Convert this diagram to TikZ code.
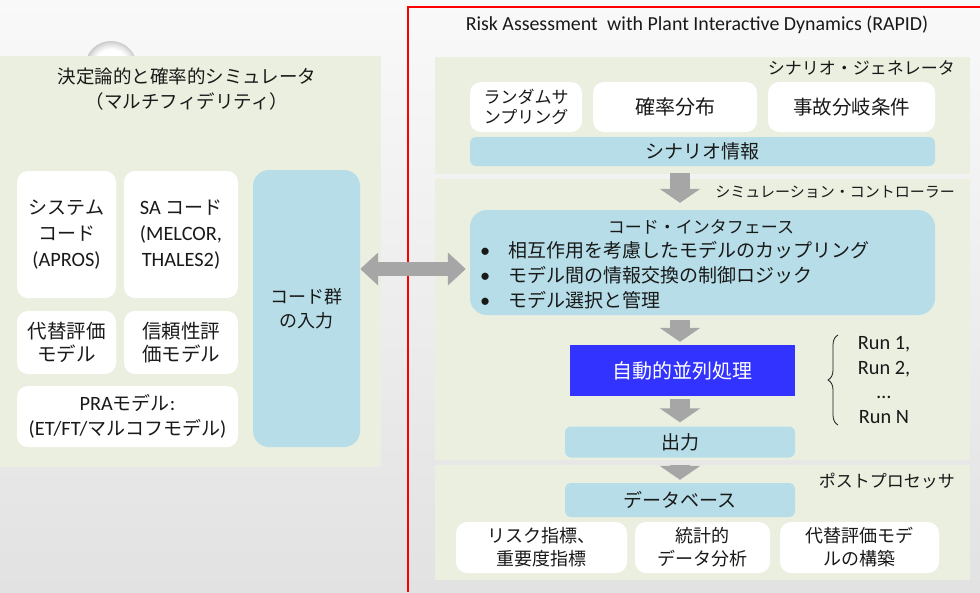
\documentclass[tikz,border=0pt]{standalone}
\usepackage{fontspec}
\setmainfont{Carlito}
\newfontfamily\jp{Noto Sans CJK JP}
\newfontfamily\lat[Scale=1.07]{Carlito}
\usetikzlibrary{arrows.meta,decorations.pathreplacing}
\definecolor{panel}{RGB}{235,239,224}
\definecolor{lblue}{RGB}{183,222,232}
\definecolor{dblue}{RGB}{51,51,255}
\definecolor{arr}{RGB}{166,166,166}
\definecolor{ink}{RGB}{25,25,25}
\pgfdeclareradialshading{ballrim}{\pgfpoint{0bp}{0bp}}{color(0bp)=(white); color(17bp)=(white); color(22bp)=(gray!22); color(25bp)=(gray!42); color(50bp)=(gray!42)}
\begin{document}
\begin{tikzpicture}[x=1pt,y=-1pt,
  txt/.style={inner sep=0pt, align=center, text=ink, font=\jp\fontsize{19}{25}\selectfont},
  wbox/.style={txt, fill=white, rounded corners=11pt},
  bbox/.style={txt, fill=lblue, rounded corners=6pt},
  dnarrow/.style={draw=arr, line width=20pt, -{Triangle[length=14pt,width=40pt]}},
  bigarrow/.style={draw=arr, line width=14pt, {Triangle[length=18pt,width=32pt]}-{Triangle[length=18pt,width=32pt]}}
]
\useasboundingbox (0,0) rectangle (980,592);
\shade[top color={rgb,255:red,249;green,249;blue,249}, bottom color={rgb,255:red,226;green,226;blue,226}] (0,0) rectangle (980,592);
\shade[shading=ballrim] (111,67) circle (26pt);

% left panel
\fill[panel] (0,56) rectangle (381,467);
\node[txt, font=\jp\fontsize{18.5}{24}\selectfont] (lt1) at (187,76) {決定論的と確率的シミュレータ};
\node[txt, font=\jp\fontsize{18.5}{24}\selectfont] (lt2) at (187,101) {（マルチフィデリティ）};

\node[wbox, minimum width=99pt, minimum height=127pt, font=\jp\fontsize{19}{26}\selectfont] (sys) at (66.5,234.5) {システム\\コード\\{\lat (APROS)}};
\node[wbox, minimum width=114pt, minimum height=127pt, font=\jp\fontsize{19}{26}\selectfont] (sa) at (181,234.5) {{\lat SA} コード\\{\lat (MELCOR,}\\{\lat THALES2)}};
\node[wbox, minimum width=99pt, minimum height=63pt, font=\jp\fontsize{19.5}{23}\selectfont] (alt) at (66.5,342.5) {代替評価\\モデル};
\node[wbox, minimum width=114pt, minimum height=63pt, font=\jp\fontsize{19.5}{23}\selectfont] (rel) at (181,342.5) {信頼性評\\価モデル};
\node[wbox, minimum width=221pt, minimum height=61pt, font=\jp\fontsize{19}{25}\selectfont] (pra) at (127.5,416.5) {{\lat PRA}モデル{\lat :}\\{\lat (ET/FT/}マルコフモデル{\lat )}};
\node[bbox, rounded corners=16pt, minimum width=107pt, minimum height=277pt, font=\jp\fontsize{18}{24}\selectfont] (input) at (306.5,308.5) {コード群\\の入力};

% red frame
\draw[red, line width=1.3pt] (980,7) -- (408,7) -- (408,592);
\node[inner sep=0pt, text=ink, font=\lat\fontsize{18.6}{22}\selectfont] (ttl) at (697,25) {Risk Assessment\hspace{0.25em} with Plant Interactive Dynamics (RAPID)};

% scenario generator
\fill[panel] (435,57) rectangle (970,174);
\node[txt, anchor=east, font=\jp\fontsize{17}{20}\selectfont] (sglbl) at (955,68) {シナリオ・ジェネレータ};
\node[wbox, minimum width=112pt, minimum height=50pt, font=\jp\fontsize{17}{20}\selectfont] (samp) at (526,107) {ランダムサ\\ンプリング};
\node[wbox, minimum width=164pt, minimum height=50pt, font=\jp\fontsize{20}{24}\selectfont] (prob) at (675,107) {確率分布};
\node[wbox, minimum width=167pt, minimum height=50pt, font=\jp\fontsize{19.5}{24}\selectfont] (acc) at (851.5,107) {事故分岐条件};
\node[bbox, minimum width=465pt, minimum height=29pt] (scinfo) at (702.5,151.5) {シナリオ情報};

% simulation controller
\fill[panel] (435,179) rectangle (970,460);
\node[txt, anchor=east, font=\jp\fontsize{15}{18}\selectfont] (sclbl) at (955,192) {シミュレーション・コントローラー};
\node[bbox, rounded corners=17pt, minimum width=465pt, minimum height=105pt] (iface) at (702.5,262.5) {};
\node[txt, font=\jp\fontsize{17}{20}\selectfont] (ifttl) at (701,227) {コード・インタフェース};
\node[txt, anchor=west, align=left] (ifitems) at (480,275) {\makebox[28pt][l]{\lat •}相互作用を考慮したモデルのカップリング\\\makebox[28pt][l]{\lat •}モデル間の情報交換の制御ロジック\\\makebox[28pt][l]{\lat •}モデル選択と管理};
\node[txt, fill=dblue, text=white, minimum width=225pt, minimum height=51pt, font=\jp\fontsize{20}{24}\selectfont] (para) at (682.5,370.5) {自動的並列処理};
\node[bbox, minimum width=230pt, minimum height=31pt] (out) at (680,442) {出力};
\coordinate (brb) at (838,425);
\coordinate (brt) at (838,335);
\draw[decorate, decoration={brace, amplitude=10pt}, line width=0.8pt, ink] (brb) -- (brt);
\node[inner sep=0pt, align=center, text=ink, font=\lat\fontsize{19}{24.5}\selectfont] (runs) at (884,380) {Run 1,\\Run 2,\\…\\Run N};

% post processor
\fill[panel] (435,465) rectangle (970,580);
\node[txt, anchor=east, font=\jp\fontsize{17}{20}\selectfont] (pplbl) at (955,481) {ポストプロセッサ};
\node[bbox, minimum width=230pt, minimum height=34pt] (db) at (680,500) {データベース};
\node[wbox, minimum width=171pt, minimum height=51pt, font=\jp\fontsize{18}{23}\selectfont] (risk) at (541.5,547.5) {リスク指標、\\重要度指標};
\node[wbox, minimum width=135pt, minimum height=51pt, font=\jp\fontsize{18}{23}\selectfont] (stat) at (702.5,547.5) {統計的\\データ分析};
\node[wbox, minimum width=159pt, minimum height=51pt, font=\jp\fontsize{18}{23}\selectfont] (surr) at (859.5,547.5) {代替評価モデ\\ルの構築};

% arrows
\draw[bigarrow, shorten >=4pt] (input.east |- 0,269) -- (iface.west |- 0,269);
\draw[dnarrow, shorten <=7pt, shorten >=7pt] (scinfo.south -| out.center) -- (iface.north -| out.center);
\draw[dnarrow, shorten <=5pt, shorten >=3pt] (iface.south -| out.center) -- (para.north -| out.center);
\draw[dnarrow, shorten <=3pt, shorten >=4pt] (para.south -| out.center) -- (out.north);
\draw[dnarrow, shorten <=7pt, shorten >=3pt] (out.south) -- (db.north);
\end{tikzpicture}
\end{document}
